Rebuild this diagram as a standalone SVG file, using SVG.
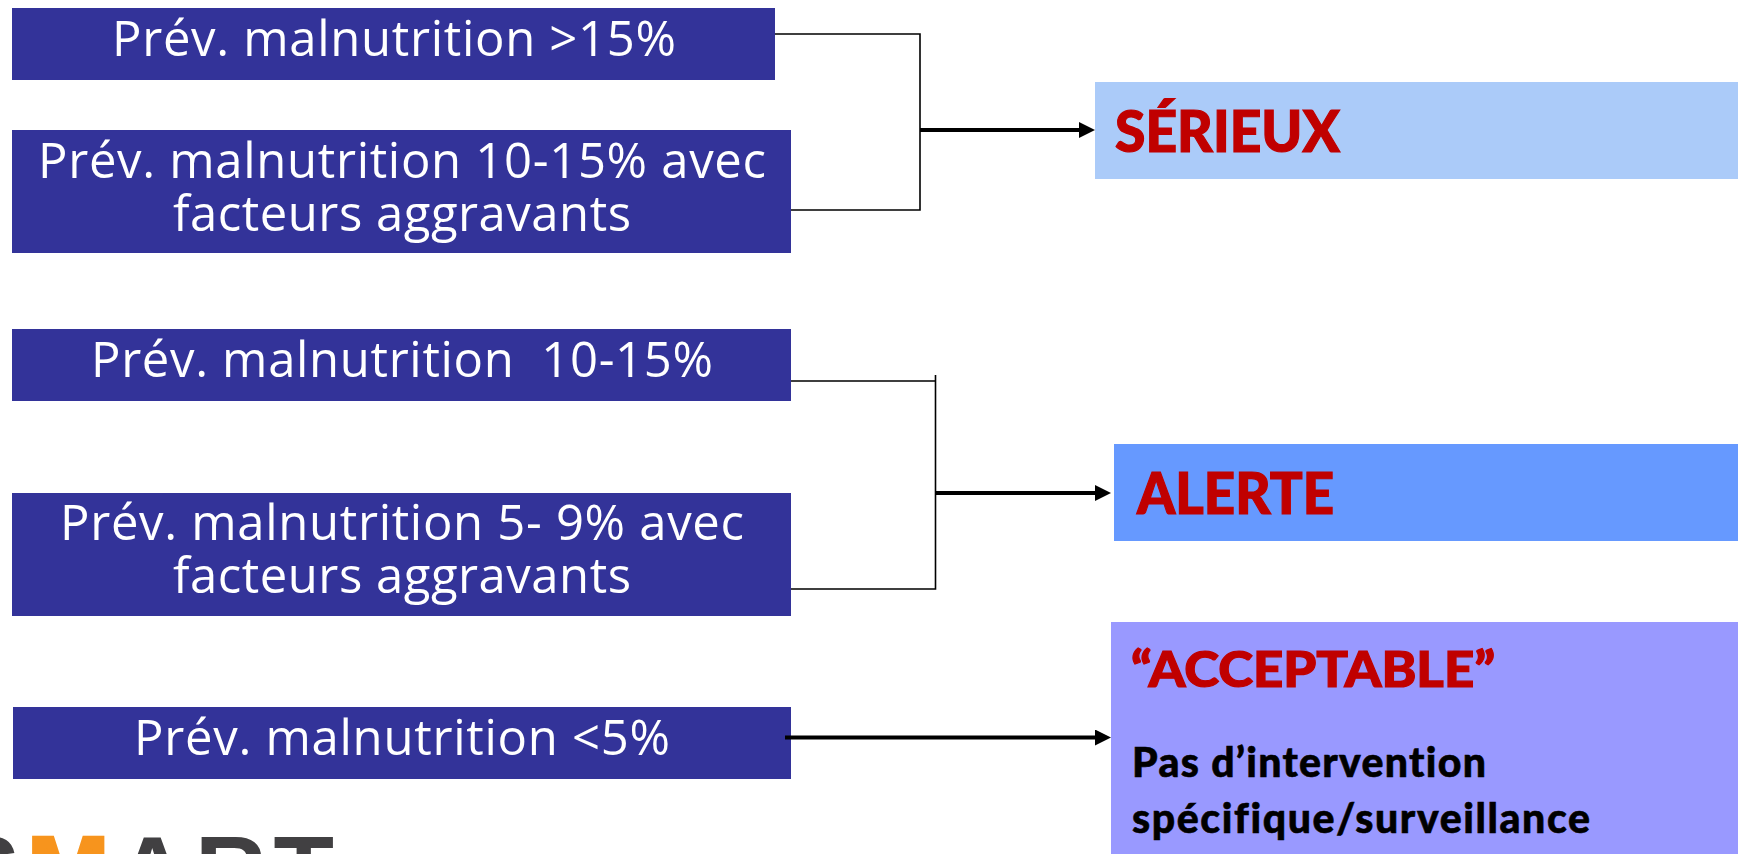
<svg xmlns="http://www.w3.org/2000/svg" width="1738" height="854" viewBox="0 0 1738 854">
<style>
.b{fill:#333399}
.t{font-family:"Open Sans","Noto Sans",sans-serif;font-weight:400;font-size:49px;fill:#fff;text-anchor:middle}
.h{font-family:Lato,"Liberation Sans",sans-serif;font-weight:900;fill:#c00000;stroke:#c00000;stroke-width:1.2;font-size:58px;font-variant-ligatures:none}
.k{font-family:Lato,"Liberation Sans",sans-serif;font-weight:900;fill:#000;stroke:#000;stroke-width:.6;font-size:41px;font-variant-ligatures:none}
.thin{fill:none;stroke:#000;stroke-width:1.6}
.thick{fill:none;stroke:#000;stroke-width:4;marker-end:url(#a)}
</style>
<defs><marker id="a" markerUnits="userSpaceOnUse" markerWidth="16" markerHeight="16" refX="4" refY="8" orient="auto"><path d="M0 0L16 8L0 16z" fill="#000"/></marker></defs>
<rect width="1738" height="854" fill="#fff"/>
<g id="n1"><rect class="b" x="12" y="8" width="763" height="72"/><text class="t" x="394" y="56" textLength="564">Prév. malnutrition &gt;15%</text></g>
<g id="n2"><rect class="b" x="12" y="130" width="779" height="123"/><text class="t" x="402" y="178" textLength="728">Prév. malnutrition 10-15% avec</text><text class="t" x="402" y="231" textLength="458">facteurs aggravants</text></g>
<g id="n3"><rect class="b" x="12" y="329" width="779" height="72"/><text class="t" x="402" y="377" textLength="622">Prév. malnutrition &#160;10-15%</text></g>
<g id="n4"><rect class="b" x="12" y="493" width="779" height="123"/><text class="t" x="402" y="540" textLength="684">Prév. malnutrition 5- 9% avec</text><text class="t" x="402" y="593" textLength="458">facteurs aggravants</text></g>
<g id="n5"><rect class="b" x="13" y="707" width="778" height="72"/><text class="t" x="402" y="755" textLength="536">Prév. malnutrition &lt;5%</text></g>
<g id="serieux"><rect x="1095" y="82" width="643" height="97" fill="#abcbf9"/><text class="h" x="1115" y="152" textLength="225" lengthAdjust="spacingAndGlyphs">SÉRIEUX</text></g>
<g id="alerte"><rect x="1114" y="444" width="624" height="97" fill="#6699ff"/><text class="h" x="1137" y="514" textLength="197" lengthAdjust="spacingAndGlyphs">ALERTE</text></g>
<g id="acceptable"><rect x="1111" y="622" width="627" height="232" fill="#9999ff"/><text class="h" x="1131" y="687" style="font-size:50px" textLength="364" lengthAdjust="spacingAndGlyphs">“ACCEPTABLE”</text><text class="k" x="1132" y="777" textLength="354">Pas d’intervention</text><text class="k" x="1132" y="833" textLength="458">spécifique/surveillance</text></g>
<g id="logo"><text x="-46" y="905" font-family="Liberation Sans" font-weight="700" font-size="99" fill="#414042" textLength="380">S<tspan fill="#f7941d" stroke="#f7941d" stroke-width="3">M</tspan>ART</text></g>
<g id="connectors">
<path class="thin" d="M775 34H920V210H791"/>
<path class="thick" d="M920 130H1083"/>
<path class="thin" d="M791 381H935.500M935.500 375V589H791"/>
<path class="thick" d="M936 493H1099"/>
<path class="thick" d="M785 737.500H1099"/>
</g>
</svg>
